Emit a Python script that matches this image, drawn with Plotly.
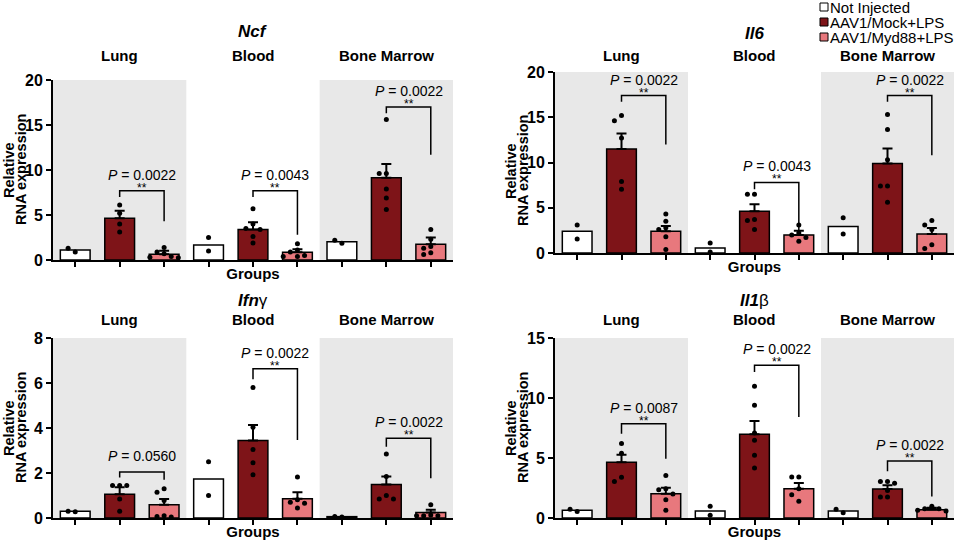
import plotly.graph_objects as go
from plotly.subplots import make_subplots

TISSUES = ["Lung", "Blood", "Bone Marrow"]
GROUPS = ["Not Injected", "AAV1/Mock+LPS", "AAV1/Myd88+LPS"]
COLORS = ["#FFFFFF", "#7E1418", "#E8787D"]

# order of the 9 bars: Lung (NI, Mock, Myd88), Blood (...), Bone Marrow (...)
NCF_MEAN = [1.1, 4.63, 0.63, 1.67, 3.4, 0.85, 2.04, 9.15, 1.74]
NCF_SEM = [0, 0.85, 0.41, 0, 0.8, 0.35, 0, 1.52, 0.76]
NCF_POINTS = [[0.9, 1.3], [6.1, 5.2, 4.0, 3.1], [1.4, 0.9, 0.7, 0.4, 0.3, 0.25],
              [2.5, 1.0], [5.7, 4.0, 3.5, 3.4, 2.6, 1.9], [1.8, 1.1, 0.9, 0.5, 0.4, 0.4],
              [1.85, 2.2], [15.6, 9.6, 9.6, 7.9, 6.9, 5.6], [3.4, 2.3, 1.5, 1.3, 0.8, 0.6]]

IL6_MEAN = [2.39, 11.5, 2.39, 0.55, 4.6, 2.0, 2.94, 9.9, 2.1]
IL6_SEM = [0, 1.7, 0.6, 0, 0.8, 0.45, 0, 1.66, 0.65]
IL6_POINTS = [[3.1, 1.55], [15.2, 14.6, 12.7, 7.9, 7.05], [4.3, 3.5, 2.8, 2.6, 1.8, 0.4],
              [1.1, 0.1], [6.5, 6.5, 3.7, 3.6, 2.6], [3.1, 2.2, 2.0, 1.7, 1.3],
              [3.9, 2.1], [15.3, 13.65, 10.3, 7.4, 7.4, 5.6], [3.6, 3.1, 2.6, 0.9, 0.5]]

IFNG_MEAN = [0.3, 1.06, 0.59, 1.73, 3.44, 0.86, 0.06, 1.49, 0.24]
IFNG_SEM = [0, 0.31, 0.25, 0, 0.69, 0.28, 0, 0.36, 0.13]
IFNG_POINTS = [[0.28, 0.3], [1.45, 1.45, 1.45, 0.84, 0.3], [1.3, 1.15, 0.78, 0.1, 0.07, 0.05],
               [2.5, 1.0], [5.8, 4.03, 3.05, 2.46, 1.92], [1.82, 0.81, 0.7, 0.66, 0.44],
               [0.05, 0.07], [2.85, 1.85, 1.0, 0.84, 0.84], [0.59, 0.13, 0.1, 0.1, 0.1]]

IL1B_MEAN = [0.64, 4.64, 2.03, 0.58, 6.97, 2.44, 0.58, 2.42, 0.69]
IL1B_SEM = [0, 0.64, 0.5, 0, 1.11, 0.48, 0, 0.3, 0.17]
IL1B_POINTS = [[0.55, 0.72], [6.2, 5.4, 3.4, 3.05], [3.55, 2.44, 2.36, 2.0, 1.53, 0.64],
               [0.97, 0.22], [10.97, 9.39, 7.08, 6.47, 5.22, 4.17], [3.42, 3.42, 2.44, 1.94, 1.39],
               [0.44, 0.72], [3.05, 3.05, 2.9, 2.3, 1.75, 1.75], [0.97, 0.78, 0.78, 0.64, 0.58]]

# (left bar, right bar, bracket height, left leg end, right leg end, p value, stars)
NCF_SIG = [(1, 2, 7.7, 7.0, 4.3, "0.0022", "**"), (4, 5, 7.7, 7.0, 2.8, "0.0043", "**"),
           (7, 8, 17.0, 16.3, 11.7, "0.0022", "**")]
IL6_SIG = [(1, 2, 17.4, 16.7, 12.0, "0.0022", "**"), (4, 5, 7.8, 7.05, 1.9, "0.0043", "**"),
           (7, 8, 17.4, 16.7, 10.8, "0.0022", "**")]
IFNG_SIG = [(1, 2, 2.04, 1.8, 1.7, "0.0560", ""), (4, 5, 6.63, 6.17, 3.47, "0.0022", "**"),
            (7, 8, 3.54, 3.17, 1.77, "0.0022", "**")]
IL1B_SIG = [(1, 2, 7.86, 7.03, 4.94, "0.0087", "**"), (4, 5, 12.72, 12.17, 8.42, "0.0022", "**"),
            (7, 8, 4.75, 3.9, 1.8, "0.0022", "**")]

FONT = "Liberation Sans, Arial, sans-serif"
W, H = 960, 540

# title, data..., y max, ticks, x span px, y span px, title y, tissue y, y-title centre
panels = [
    ("<b><i>Ncf</i></b>", NCF_MEAN, NCF_SEM, NCF_POINTS, NCF_SIG, 20, [0, 5, 10, 15, 20],
     (53, 453), (80, 260), 32, 55, 170),
    ("<b><i>Il6</i></b>", IL6_MEAN, IL6_SEM, IL6_POINTS, IL6_SIG, 20, [0, 5, 10, 15, 20],
     (555, 954), (72, 253), 33, 55, 171),
    ("<b><i>Ifn</i></b>γ", IFNG_MEAN, IFNG_SEM, IFNG_POINTS, IFNG_SIG, 8, [0, 2, 4, 6, 8],
     (53, 453), (338, 518), 300, 319, 428),
    ("<b><i>Il1</i></b>β", IL1B_MEAN, IL1B_SEM, IL1B_POINTS, IL1B_SIG, 15, [0, 5, 10, 15],
     (555, 954), (338, 518), 300, 319, 428),
]


def py(p):
    return 1 - p / H


def swarm(vals, px_per_unit, step=0.16):
    placed = []
    for v in vals:
        for k in [0, -1, 1, -2, 2, -3, 3]:
            dx = k * step
            if all(abs(dx - ox) > step * 0.9 or abs(v - oy) * px_per_unit > 6 for ox, oy in placed):
                placed.append((dx, v))
                break
    return [p[0] for p in placed]


fig = make_subplots(rows=2, cols=2)
shapes = []
annotations = []

for i, (title, means, sems, points, sig, ymax, ticks, xd, yd, ty, sy, yt) in enumerate(panels):
    row, col = i // 2 + 1, i % 2 + 1
    ax = "" if i == 0 else str(i + 1)
    scale = (yd[1] - yd[0]) / ymax

    for g in range(3):
        idx = [g + 3 * t for t in range(3)]
        errs = [sems[j] for j in idx]
        fig.add_trace(go.Bar(
            x=idx, y=[means[j] for j in idx], width=0.67, name=GROUPS[g], showlegend=False,
            marker=dict(color=COLORS[g], line=dict(color="black", width=1.5)),
            error_y=dict(type="data", array=errs, arrayminus=[0] * 3, symmetric=False,
                         color="black", thickness=2, width=5, visible=any(e > 0 for e in errs)),
        ), row=row, col=col)

    xs, ys = [], []
    for j, vals in enumerate(points):
        for dx, v in zip(swarm(vals, scale), vals):
            xs.append(j + dx)
            ys.append(v)
    fig.add_trace(go.Scatter(x=xs, y=ys, mode="markers", showlegend=False,
                             marker=dict(color="black", size=5)), row=row, col=col)

    fig.layout["xaxis" + ax].update(
        domain=[xd[0] / W, xd[1] / W], range=[-0.5, 8.5], tickvals=list(range(9)),
        showticklabels=False, ticks="outside", ticklen=5, tickwidth=1.5, tickcolor="black",
        showline=True, linecolor="black", linewidth=2, showgrid=False, zeroline=False,
        automargin=False,
        title=dict(text="Groups", font=dict(family=FONT, size=15, color="black", weight="bold"),
                   standoff=2))
    fig.layout["yaxis" + ax].update(
        domain=[py(yd[1]), py(yd[0])], range=[0, ymax], tickvals=ticks,
        ticks="outside", ticklen=5, tickwidth=1.5, tickcolor="black",
        tickfont=dict(family=FONT, size=16, color="black", weight="bold"),
        showline=True, linecolor="black", linewidth=2, showgrid=False, zeroline=False,
        automargin=False)

    # two-line y title, drawn as rotated text next to the axis
    for line, off in [("Relative", 44), ("RNA expression", 32)]:
        annotations.append(dict(text="<b>%s</b>" % line, xref="paper", yref="paper",
                                x=(xd[0] - off) / W, y=py(yt), xanchor="center",
                                yanchor="middle", textangle=-90, showarrow=False,
                                font=dict(family=FONT, size=14.5, color="black")))

    xr, yr = "x" + ax, "y" + ax
    for x0, x1 in [(-0.5, 2.5), (5.5, 8.5)]:
        shapes.append(dict(type="rect", xref=xr, yref=yr, x0=x0, x1=x1, y0=0, y1=ymax,
                           fillcolor="#E8E8E8", line=dict(width=0), layer="below"))

    annotations.append(dict(text=title, xref=xr, yref="paper", x=4, y=py(ty),
                            xanchor="center", yanchor="middle", showarrow=False,
                            font=dict(family=FONT, size=17, color="black")))
    for t, name in enumerate(TISSUES):
        annotations.append(dict(text="<b>%s</b>" % name, xref=xr, yref="paper", x=1 + 3 * t,
                                y=py(sy), xanchor="center", yanchor="middle", showarrow=False,
                                font=dict(family=FONT, size=15, color="black")))

    for a, b, yb, la, lb, pval, stars in sig:
        shapes.append(dict(type="path", xref=xr, yref=yr,
                           path="M %s,%s L %s,%s L %s,%s L %s,%s" % (a, la, a, yb, b, yb, b, lb),
                           line=dict(color="black", width=1.5)))
        annotations.append(dict(text="<i>P</i> = " + pval, xref=xr, yref=yr, x=(a + b) / 2, y=yb,
                                xanchor="center", yanchor="middle", yshift=16, showarrow=False,
                                font=dict(family=FONT, size=14, color="black")))
        if stars:
            annotations.append(dict(text=stars, xref=xr, yref=yr, x=(a + b) / 2, y=yb,
                                    xanchor="center", yanchor="middle", yshift=3,
                                    showarrow=False,
                                    font=dict(family=FONT, size=12, color="black")))

# legend, top right
for g, name in enumerate(GROUPS):
    cy = 7 + 15 * g
    shapes.append(dict(type="rect", xref="paper", yref="paper", x0=820 / W, x1=828 / W,
                       y0=py(cy + 4), y1=py(cy - 4), fillcolor=COLORS[g],
                       line=dict(color="black", width=1)))
    annotations.append(dict(text=name, xref="paper", yref="paper", x=828 / W, y=py(cy + 0.5),
                            xanchor="left", yanchor="middle", showarrow=False,
                            font=dict(family=FONT, size=15, color="black")))

fig.update_layout(
    width=W, height=H, margin=dict(l=0, r=0, t=0, b=0),
    paper_bgcolor="white", plot_bgcolor="rgba(0,0,0,0)",
    barmode="overlay", showlegend=False, shapes=shapes, annotations=annotations,
    font=dict(family=FONT, color="black"),
)

# drop the page's default body margin so the 960x540 figure fills the window
fig.write_html("out.html", config={"displayModeBar": False},
               post_script="document.body.style.margin='0';")
